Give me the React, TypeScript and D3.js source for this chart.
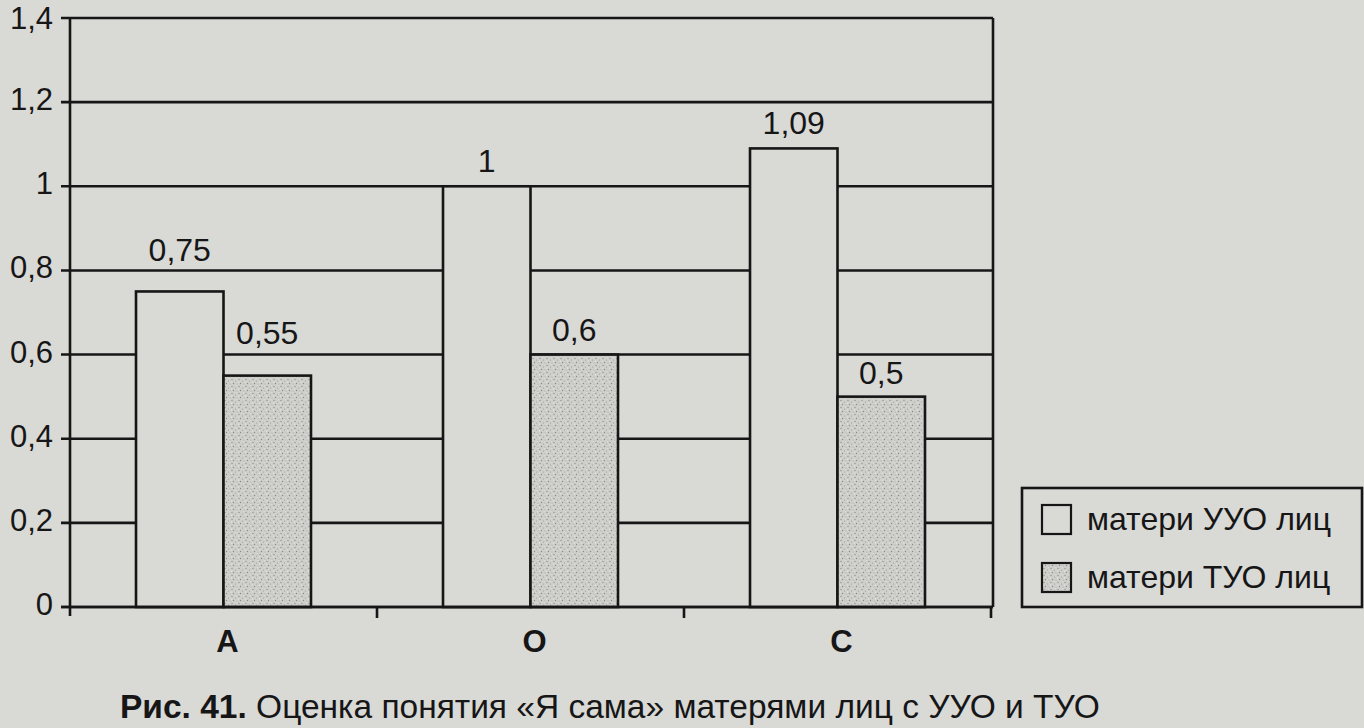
import React from "react";
import * as d3 from "d3";

const categories = ["А", "О", "С"];
const seriesNames = ["матери УУО лиц", "матери ТУО лиц"];
const uuoValues = [0.75, 1, 1.09];
const tuoValues = [0.55, 0.6, 0.5];
const valueLabels = [
  ["0,75", "1", "1,09"],
  ["0,55", "0,6", "0,5"],
];
const yTicks = [0, 0.2, 0.4, 0.6, 0.8, 1, 1.2, 1.4];
const yTickLabels = ["0", "0,2", "0,4", "0,6", "0,8", "1", "1,2", "1,4"];
const captionBold = "Рис. 41.";
const captionText = " Оценка понятия «Я сама» матерями лиц с УУО и ТУО";

const W = 1364;
const H = 728;
const BG = "#d9d9d6";
const INK = "#161616";
const FONT = "'Liberation Sans', Arial, Helvetica, sans-serif";
// extra vertical gap per category label (style only)
const labelGap = [[30, 14, 14], [32, 14, 13]];

export default function App() {
  const left = 70, right = 993, top = 18, bottom = 607;
  const y = d3.scaleLinear().domain([0, 1.4]).range([bottom, top]);
  const x0 = d3.scaleBand().domain(categories).range([left, 991]);
  const bw = x0.bandwidth();
  const x1 = d3.scaleBand().domain(seriesNames).range([bw * 0.215, bw * 0.785]);
  const series = [uuoValues, tuoValues];
  const fills = [BG, "url(#stipple)"];
  const sw = 2.6;

  return (
    <svg width={W} height={H} style={{ position: "absolute", left: 0, top: 0 }} fontFamily={FONT}>
      <defs>
        <pattern id="stipple" width="7" height="7" patternUnits="userSpaceOnUse">
          <rect width="7" height="7" fill="#cfcfcc" />
          <circle cx="1" cy="1.5" r="0.7" fill="#8f8f8c" />
          <circle cx="4.5" cy="3" r="0.6" fill="#9a9a97" />
          <circle cx="2.5" cy="5.5" r="0.7" fill="#888885" />
          <circle cx="6" cy="6" r="0.5" fill="#a3a3a0" />
          <circle cx="5.5" cy="0.5" r="0.4" fill="#eeeeec" />
          <circle cx="0.5" cy="4" r="0.5" fill="#efefed" />
        </pattern>
      </defs>
      <rect width={W} height={H} fill={BG} />

      {/* gridlines */}
      {yTicks.map((t, i) => (
        <line key={"g" + i} x1={left - 9} x2={right} y1={y(t)} y2={y(t)} stroke={INK} strokeWidth={sw} />
      ))}
      {/* y tick labels */}
      {yTicks.map((t, i) => (
        <text key={"yl" + i} x={53} y={Math.max(y(t) + 8, 29)} textAnchor="end" fontSize={31} fill={INK}>
          {yTickLabels[i]}
        </text>
      ))}

      {/* bars */}
      {categories.map((c, ci) =>
        series.map((vals, si) => {
          const bx = x0(c)! + x1(seriesNames[si])!;
          const by = y(vals[ci]);
          return (
            <g key={c + si}>
              <rect x={bx} y={by} width={x1.bandwidth()} height={bottom - by} fill={fills[si]} stroke={INK} strokeWidth={sw} />
              <text x={bx + x1.bandwidth() / 2} y={by - labelGap[si][ci]} textAnchor="middle" fontSize={32} fill={INK}>
                {valueLabels[si][ci]}
              </text>
            </g>
          );
        })
      )}

      {/* axes */}
      <line x1={left} x2={left} y1={top} y2={bottom + 9} stroke={INK} strokeWidth={sw} />
      <line x1={right} x2={right} y1={top} y2={bottom} stroke={INK} strokeWidth={sw} />
      <line x1={left - 9} x2={right} y1={bottom} y2={bottom} stroke={INK} strokeWidth={sw} />
      {categories.map((c, ci) => (
        <line key={"xt" + ci} x1={x0(c)! + bw} x2={x0(c)! + bw} y1={bottom} y2={bottom + 11} stroke={INK} strokeWidth={sw} />
      ))}
      {categories.map((c) => (
        <text key={"xl" + c} x={x0(c)! + bw / 2 + 4} y={652} textAnchor="middle" fontSize={31} fontWeight="bold" fill={INK}>
          {c}
        </text>
      ))}

      {/* legend */}
      <rect x={1022} y={488} width={340} height={119} fill={BG} stroke={INK} strokeWidth={sw} />
      {seriesNames.map((s, i) => (
        <g key={"lg" + i}>
          <rect x={1042} y={505 + i * 58} width={29} height={29} fill={fills[i]} stroke={INK} strokeWidth={2.2} />
          <text x={1087} y={530 + i * 58} fontSize={32} fill={INK}>{s}</text>
        </g>
      ))}

      {/* caption */}
      <text x={120} y={718} fontSize={33.5} fill={INK}>
        <tspan fontWeight="bold">{captionBold}</tspan>
        <tspan>{captionText}</tspan>
      </text>
    </svg>
  );
}
